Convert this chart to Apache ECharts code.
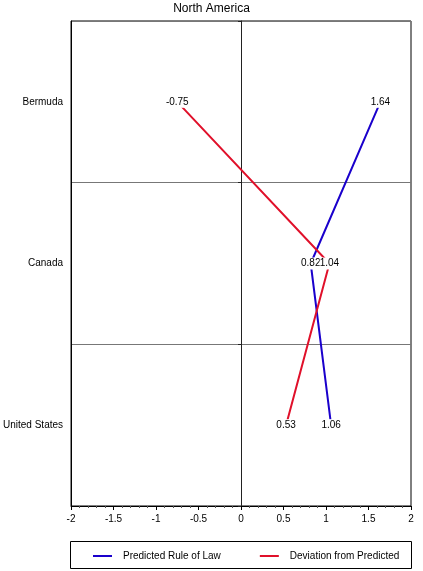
<!DOCTYPE html>
<html>
<head>
<meta charset="utf-8">
<script src="https://cdn.jsdelivr.net/npm/echarts@6/dist/echarts.min.js"></script>
<style>html,body{margin:0;padding:0;background:#fff;}#c{width:423px;height:571px;}</style>
</head>
<body>
<div id="c"></div>
<script>
var categories = ['Bermuda', 'Canada', 'United States'];
var predicted = [1.64, 0.82, 1.06];
var deviation = [-0.75, 1.04, 0.53];
var xTicks = [-2, -1.5, -1, -0.5, 0, 0.5, 1, 1.5, 2];

var chart = echarts.init(document.getElementById('c'));
var FONT = 'Liberation Sans, Arial, sans-serif';
var labelStyle = {
  show: true, position: 'inside', color: '#000', fontSize: 10, fontFamily: FONT,
  backgroundColor: '#fff', padding: [1, 0, 1, 0],
  formatter: function (p) { return String(p.value[0]); }
};
chart.setOption({
  animation: false,
  title: { text: 'North America', left: 'center', top: -2,
    textStyle: { fontSize: 12, fontWeight: 'normal', color: '#000', fontFamily: FONT } },
  grid: { left: 70, right: 12, top: 21, bottom: 65, show: true, borderColor: '#000', borderWidth: 1 },
  xAxis: {
    type: 'value', min: -2, max: 2, interval: 0.5,
    axisLine: { show: true, onZero: false, lineStyle: { color: '#000' } },
    axisTick: { show: true, length: 4, lineStyle: { color: '#000' } },
    minorTick: { show: true, splitNumber: 5, length: 2, lineStyle: { color: '#555' } },
    splitLine: { show: false },
    axisLabel: { color: '#000', fontSize: 10, fontFamily: FONT, margin: 8,
      formatter: function (v) { return xTicks.indexOf(v) >= 0 ? String(v) : ''; } }
  },
  yAxis: [{
    type: 'category', data: categories, inverse: true, boundaryGap: true, position: 'left',
    axisLine: { show: true, onZero: false, lineStyle: { color: '#000' } },
    axisTick: { show: false },
    splitLine: { show: true, lineStyle: { color: '#777', width: 1 } },
    axisLabel: { color: '#000', fontSize: 10, fontFamily: FONT, margin: 8 }
  }, {
    type: 'category', data: categories, inverse: true, boundaryGap: true, position: 'left',
    axisLine: { show: true, onZero: true, lineStyle: { color: '#222' } },
    axisTick: { show: true, length: 3, lineStyle: { color: '#222' } },
    axisLabel: { show: false },
    splitLine: { show: false }
  }],
  legend: {
    left: 88, top: 546, itemWidth: 19, itemHeight: 2, itemGap: 39,
    icon: 'rect',
    textStyle: { fontSize: 10, color: '#000', fontFamily: FONT, padding: [0, 0, 0, 6] },
    data: ['Predicted Rule of Law', 'Deviation from Predicted']
  },
  graphic: [{ type: 'rect', shape: { x: 70.5, y: 541.5, width: 341, height: 27 },
    style: { fill: 'none', stroke: '#000', lineWidth: 1 }, z: 100 }],
  series: [{
    name: 'Predicted Rule of Law', type: 'line', yAxisIndex: 0,
    data: predicted.map(function (v, i) { return [v, categories[i]]; }),
    symbol: 'circle', symbolSize: 0,
    lineStyle: { color: '#1a00cc', width: 2 }, itemStyle: { color: '#1a00cc' },
    label: labelStyle
  }, {
    name: 'Deviation from Predicted', type: 'line', yAxisIndex: 0,
    data: deviation.map(function (v, i) { return [v, categories[i]]; }),
    symbol: 'circle', symbolSize: 0,
    lineStyle: { color: '#e0102a', width: 2 }, itemStyle: { color: '#e0102a' },
    label: labelStyle
  }]
});
</script>
</body>
</html>
